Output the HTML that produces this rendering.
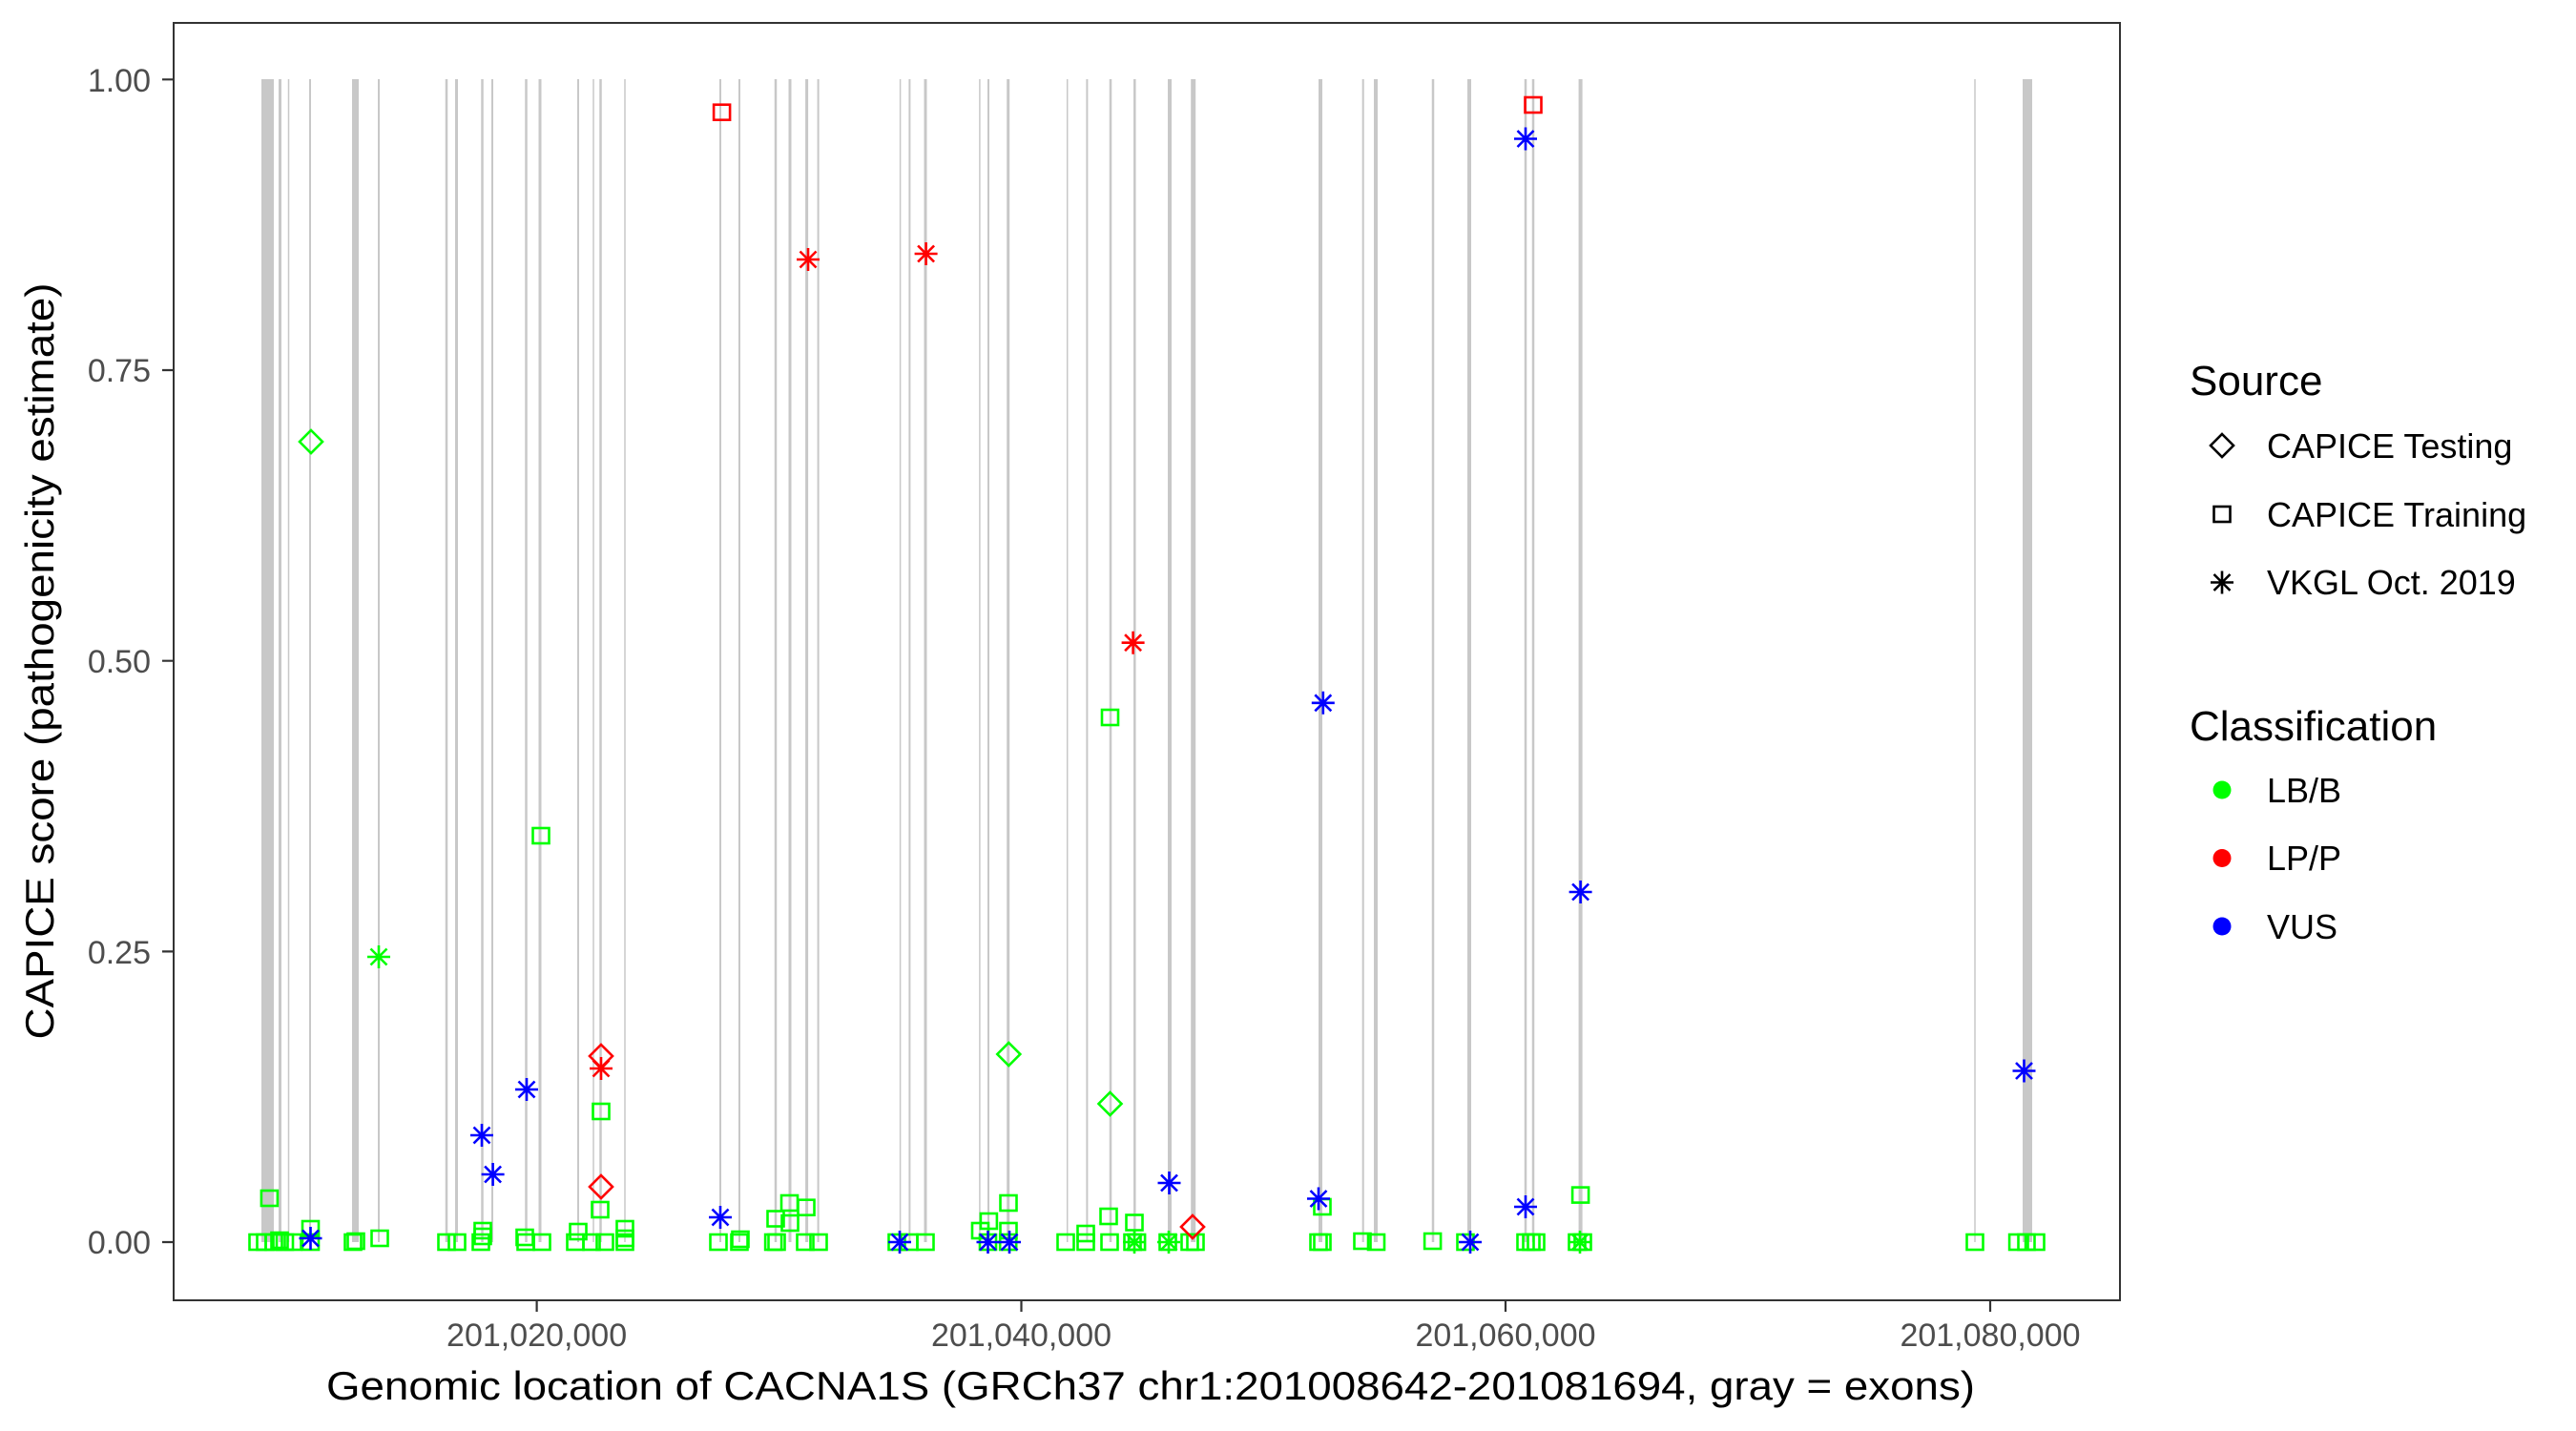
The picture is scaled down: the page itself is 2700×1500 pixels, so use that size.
<!DOCTYPE html>
<html><head><meta charset="utf-8"><style>html,body{margin:0;padding:0;background:#fff}svg{display:block}</style></head><body>
<svg width="2700" height="1500" viewBox="0 0 2700 1500" xmlns="http://www.w3.org/2000/svg" font-family="Liberation Sans, sans-serif">
<defs>
<g id="sq"><rect x="-8.5" y="-8" width="17" height="16" fill="none" stroke-width="2.6"/></g>
<g id="dm"><path d="M0,-12 L12,0 L0,12 L-12,0 Z" fill="none" stroke-width="2.6"/></g>
<g id="as"><path d="M-12,0H12M0,-12V12M-8.5,-8.5L8.5,8.5M-8.5,8.5L8.5,-8.5" fill="none" stroke-width="2.6"/></g>
</defs>
<rect width="2700" height="1500" fill="#fff"/>
<g fill="#c8c8c8">
<rect x="274" y="83" width="13" height="1219"/>
<rect x="369" y="83" width="7" height="1219"/>
<rect x="2120" y="83" width="10" height="1219"/>
</g>
<g stroke="#c8c8c8">
<path stroke-width="3" d="M293.5,83V1302M566,83V1302M828,83V1302M845.6,83V1302M970,83V1302M1056.7,83V1302M478.5,83V1302"/>
<path stroke-width="1.5" d="M302.5,83V1302M622,83V1302M655,83V1302M943.6,83V1302M1026.9,83V1302M1118.7,83V1302M2070,83V1302"/>
<path stroke-width="2" d="M325,83V1302M397,83V1302M516,83V1302M606,83V1302M755,83V1302M775,83V1302M857.6,83V1302M953.4,83V1302M1036,83V1302M1139.4,83V1302M1428.7,83V1302"/>
<path stroke-width="2.5" d="M468,83V1302M505.5,83V1302M551.5,83V1302M629.5,83V1302M813,83V1302M1164,83V1302M1189.3,83V1302M1502,83V1302M1599,83V1302M1607,83V1302"/>
<path stroke-width="4" d="M1226,83V1302M1384,83V1302M1442,83V1302M1540,83V1302M1656.6,83V1302"/>
<path stroke-width="5" d="M1250.7,83V1302"/>
</g>
<g stroke="#00ff00">
<use href="#sq" x="270" y="1302"/><use href="#sq" x="278" y="1302"/><use href="#sq" x="287" y="1302"/><use href="#sq" x="293" y="1300"/><use href="#sq" x="298.5" y="1302"/><use href="#sq" x="307" y="1302"/><use href="#sq" x="325.5" y="1302"/><use href="#sq" x="370" y="1302"/><use href="#sq" x="373" y="1301"/><use href="#sq" x="468" y="1302"/><use href="#sq" x="479" y="1302"/><use href="#sq" x="504" y="1302"/><use href="#sq" x="551" y="1302"/><use href="#sq" x="568" y="1302"/><use href="#sq" x="603" y="1302"/><use href="#sq" x="620" y="1302"/><use href="#sq" x="634" y="1302"/><use href="#sq" x="655" y="1302"/><use href="#sq" x="753" y="1302"/><use href="#sq" x="775" y="1302"/><use href="#sq" x="776" y="1299"/><use href="#sq" x="810.6" y="1302"/><use href="#sq" x="814" y="1302"/><use href="#sq" x="844" y="1302"/><use href="#sq" x="858" y="1302"/>
<use href="#sq" x="940" y="1302"/><use href="#sq" x="953" y="1302"/><use href="#sq" x="970" y="1302"/><use href="#sq" x="1035.5" y="1302"/><use href="#sq" x="1056.7" y="1302"/><use href="#sq" x="1117" y="1302"/><use href="#sq" x="1138" y="1302"/><use href="#sq" x="1163" y="1302"/><use href="#sq" x="1187" y="1302"/><use href="#sq" x="1191.6" y="1302"/><use href="#sq" x="1224" y="1302"/><use href="#sq" x="1247" y="1302"/><use href="#sq" x="1253" y="1302"/><use href="#sq" x="1382" y="1302"/><use href="#sq" x="1386" y="1302"/><use href="#sq" x="1428" y="1301"/><use href="#sq" x="1442.5" y="1302"/><use href="#sq" x="1501.6" y="1301"/><use href="#sq" x="1536" y="1302"/><use href="#sq" x="1599" y="1302"/><use href="#sq" x="1605" y="1302"/><use href="#sq" x="1610" y="1302"/><use href="#sq" x="1653" y="1302"/><use href="#sq" x="1659" y="1302"/>
<use href="#sq" x="2070" y="1302"/><use href="#sq" x="2114.6" y="1302"/><use href="#sq" x="2124" y="1302"/><use href="#sq" x="2134" y="1302"/>
<use href="#sq" x="282.4" y="1256"/><use href="#sq" x="325.5" y="1288"/><use href="#sq" x="398" y="1298"/><use href="#sq" x="506" y="1290"/><use href="#sq" x="506" y="1296"/><use href="#sq" x="550" y="1297"/><use href="#sq" x="567" y="876"/><use href="#sq" x="606" y="1291"/><use href="#sq" x="629" y="1268"/><use href="#sq" x="630" y="1165"/><use href="#sq" x="655" y="1288"/><use href="#sq" x="655" y="1298"/>
<use href="#sq" x="813" y="1277.5"/><use href="#sq" x="827.5" y="1261"/><use href="#sq" x="828" y="1282"/><use href="#sq" x="845" y="1265.7"/>
<use href="#sq" x="1027.5" y="1290"/><use href="#sq" x="1036.4" y="1280"/><use href="#sq" x="1057" y="1261"/><use href="#sq" x="1057" y="1290"/><use href="#sq" x="1138" y="1293"/><use href="#sq" x="1162" y="1275"/><use href="#sq" x="1163.5" y="752"/><use href="#sq" x="1189" y="1281.5"/><use href="#sq" x="1386" y="1265"/><use href="#sq" x="1656.6" y="1252.6"/>
</g>
<g stroke="#00ff00">
<use href="#dm" x="326" y="463"/><use href="#dm" x="1057.3" y="1105"/><use href="#dm" x="1163.5" y="1157"/>
<use href="#as" x="397" y="1003"/><use href="#as" x="1189" y="1302"/><use href="#as" x="1225" y="1302"/><use href="#as" x="1656" y="1302"/>
</g>
<g stroke="#ff0000">
<use href="#sq" x="756.6" y="117.7"/><use href="#sq" x="1607" y="110"/>
<use href="#as" x="847" y="272"/><use href="#as" x="970.6" y="266"/><use href="#as" x="1187.6" y="673.7"/><use href="#as" x="630" y="1120"/>
<use href="#dm" x="630" y="1107"/><use href="#dm" x="630" y="1244"/><use href="#dm" x="1250" y="1286"/>
</g>
<g stroke="#0000ff">
<use href="#as" x="325.5" y="1298"/><use href="#as" x="505" y="1190"/><use href="#as" x="516.6" y="1231"/><use href="#as" x="552" y="1142"/><use href="#as" x="755" y="1276"/>
<use href="#as" x="943" y="1302"/><use href="#as" x="1035.5" y="1302"/><use href="#as" x="1058" y="1302"/><use href="#as" x="1225.5" y="1240"/><use href="#as" x="1386.8" y="736.8"/><use href="#as" x="1382" y="1256.5"/><use href="#as" x="1541" y="1302"/><use href="#as" x="1599" y="145.5"/><use href="#as" x="1599" y="1265"/><use href="#as" x="1656.6" y="935"/><use href="#as" x="2121.5" y="1122.5"/>
</g>
<rect x="182" y="24" width="2040" height="1339" fill="none" stroke="#333" stroke-width="2"/>
<g stroke="#333" stroke-width="2.2">
<path d="M170,83.3H182M170,388H182M170,692.7H182M170,997.4H182M170,1302H182"/>
<path d="M562.6,1363V1375M1070.5,1363V1375M1578,1363V1375M2086,1363V1375"/>
</g>
<g fill="#4d4d4d" font-size="34" text-anchor="end">
<text x="158" y="96">1.00</text><text x="158" y="400">0.75</text><text x="158" y="705">0.50</text><text x="158" y="1010">0.25</text><text x="158" y="1314">0.00</text>
</g>
<g fill="#4d4d4d" font-size="34" text-anchor="middle">
<text x="562.6" y="1411">201,020,000</text><text x="1070.5" y="1411">201,040,000</text><text x="1578" y="1411">201,060,000</text><text x="2086" y="1411">201,080,000</text>
</g>
<text x="1206" y="1467" font-size="42" text-anchor="middle" textLength="1728" lengthAdjust="spacingAndGlyphs">Genomic location of CACNA1S (GRCh37 chr1:201008642-201081694, gray = exons)</text>
<text transform="translate(56,693) rotate(-90)" font-size="42" text-anchor="middle" textLength="793" lengthAdjust="spacingAndGlyphs">CAPICE score (pathogenicity estimate)</text>
<text x="2295" y="414" font-size="44">Source</text>
<g stroke="#000"><use href="#dm" x="2329" y="467"/><use href="#sq" x="2329" y="539"/><use href="#as" x="2329" y="610.5"/></g>
<g font-size="36"><text x="2376" y="480">CAPICE Testing</text><text x="2376" y="552">CAPICE Training</text><text x="2376" y="623">VKGL Oct. 2019</text></g>
<text x="2295" y="776" font-size="44">Classification</text>
<circle cx="2329" cy="828" r="9.5" fill="#00ff00"/><circle cx="2329" cy="899.5" r="9.5" fill="#ff0000"/><circle cx="2329" cy="971" r="9.5" fill="#0000ff"/>
<g font-size="36"><text x="2376" y="841">LB/B</text><text x="2376" y="912">LP/P</text><text x="2376" y="984">VUS</text></g>
</svg>
</body></html>
